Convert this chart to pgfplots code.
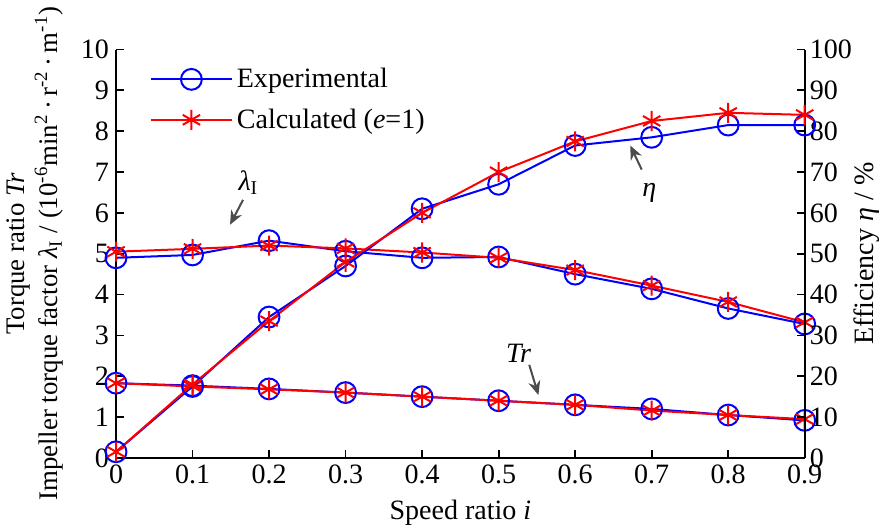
\documentclass[border=0pt]{standalone}
\usepackage{fontspec}
\setmainfont{Liberation Serif}
\usepackage{pgfplots}
\pgfplotsset{compat=1.18}
\usetikzlibrary{arrows.meta}

\definecolor{expblue}{RGB}{0,0,255}
\definecolor{calred}{RGB}{255,0,0}

\pgfplotstableread{
i    trE   trC   lamE  lamC  etaE  etaC
0.0  1.83  1.83  4.90  5.05  1.5   1.5
0.1  1.77  1.75  4.97  5.12  17.5  18.0
0.2  1.69  1.68  5.32  5.20  34.5  33.5
0.3  1.60  1.60  5.06  5.13  47.0  48.0
0.4  1.50  1.50  4.90  5.03  61.0  60.0
0.5  1.40  1.40  4.92  4.90  67.0  70.0
0.6  1.30  1.30  4.50  4.60  76.5  77.5
0.7  1.20  1.16  4.14  4.22  78.5  82.5
0.8  1.05  1.05  3.66  3.82  81.5  84.5
0.9  0.92  0.95  3.28  3.32  81.5  84.0
}\data

\begin{document}
\begin{tikzpicture}
\pgfplotsset{
  base/.style={
    scale only axis, width=344pt, height=204pt,
    xmin=0, xmax=0.9,
    font=\fontsize{14}{15}\selectfont,
    /pgf/number format/assume math mode=true,
    tick align=inside, major tick length=4pt,
    axis line style={line width=0.9pt, -},
    every tick/.style={line width=0.9pt, black},
    clip=false,
  },
  expstyle/.style={color=expblue, line width=1pt, mark=o, mark size=5.2pt, mark options={line width=1pt}},
  calstyle/.style={color=calred, line width=1pt, mark=asterisk, mark size=5pt, mark options={line width=1pt}},
}
\begin{axis}[
  base,
  ymin=0, ymax=10,
  axis x line*=bottom, axis y line*=left,
  xtick={0,0.1,0.2,0.3,0.4,0.5,0.6,0.7,0.8,0.9},
  xticklabels={0,0.1,0.2,0.3,0.4,0.5,0.6,0.7,0.8,0.9},
  ytick={0,1,...,10},
  xlabel={Speed ratio \textit{i}},
  xlabel style={yshift=-1pt},
  ylabel={Torque ratio \textit{Tr}\\Impeller torque factor \textit{λ}\textsubscript{I} / (10\textsuperscript{-6}min\textsuperscript{2}\,·\,r\textsuperscript{-2}\,·\,m\textsuperscript{-1})},
  ylabel style={align=center, font=\fontsize{13.4}{16.5}\selectfont, yshift=2pt},
  legend style={draw=none, fill=none, at={(0.04,0.975)}, anchor=north west,
    font=\fontsize{14}{15}\selectfont, row sep=5pt},
  legend cell align=left,
  legend image code/.code={\draw[mark repeat=2, mark phase=2] plot coordinates {(0cm,0cm) (0.71cm,0cm) (1.42cm,0cm)};},
]
\addplot[expstyle] table[x=i, y=lamE] {\data};
\addlegendentry{Experimental}
\addplot[calstyle] table[x=i, y=lamC] {\data};
\addlegendentry{Calculated (\textit{e}=1)}
\addplot[expstyle, forget plot] table[x=i, y=trE] {\data};
\addplot[calstyle, forget plot] table[x=i, y=trC] {\data};

\node at (axis cs:0.173,6.74) {\textit{λ}\textsubscript{I}};
\draw[-{Stealth[length=7pt,width=6pt]}, black!70, line width=1pt] (axis cs:0.166,6.32) -- (axis cs:0.149,5.71);
\node at (axis cs:0.697,6.5) {\textit{η}};
\draw[-{Stealth[length=7pt,width=6pt]}, black!70, line width=1pt] (axis cs:0.687,7.06) -- (axis cs:0.672,7.65);
\node at (axis cs:0.526,2.57) {\textit{Tr}};
\draw[-{Stealth[length=7pt,width=6pt]}, black!70, line width=1pt] (axis cs:0.54,2.28) -- (axis cs:0.552,1.54);
\end{axis}

\begin{axis}[
  base,
  ymin=0, ymax=100,
  axis x line=none, axis y line*=right,
  ytick={0,10,...,100},
  yticklabel style={xshift=-1pt},
  ylabel={Efficiency \textit{η} / \%},
  ylabel style={yshift=6pt},
]
\addplot[expstyle] table[x=i, y=etaE] {\data};
\addplot[calstyle] table[x=i, y=etaC] {\data};
\end{axis}
\end{tikzpicture}
\end{document}
